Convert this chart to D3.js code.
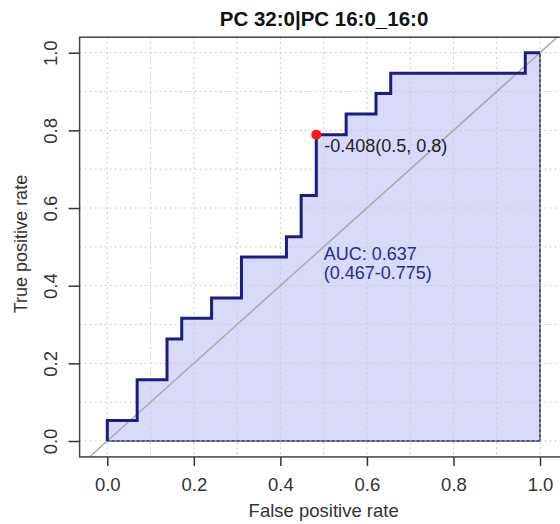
<!DOCTYPE html>
<html>
<head>
<meta charset="utf-8">
<script src="https://cdn.jsdelivr.net/npm/d3@7"></script>
<style>
  html, body { margin: 0; padding: 0; background: #fff; }
  svg { display: block; font-family: "Liberation Sans", Arial, Helvetica, sans-serif; }
</style>
</head>
<body>
<svg id="chart" width="560" height="524"></svg>
<script>
// ---- data ----
const title = "PC 32:0|PC 16:0_16:0";
const fpr = [0, 0, 0.069, 0.138, 0.172, 0.241, 0.310, 0.414, 0.448, 0.483, 0.552, 0.621, 0.655, 0.966, 1];
const tpr = [0, 0.053, 0.158, 0.263, 0.316, 0.368, 0.474, 0.526, 0.632, 0.789, 0.842, 0.895, 0.947, 1, 1];
const bestPoint = { fpr: 0.483, tpr: 0.789, label: "-0.408(0.5, 0.8)" };
const aucLines = ["AUC: 0.637", "(0.467-0.775)"];
const tickValues = [0, 0.2, 0.4, 0.6, 0.8, 1.0];
const gridValues = [0, 0.1, 0.2, 0.3, 0.4, 0.5, 0.6, 0.7, 0.8, 0.9, 1.0];
const xLabel = "False positive rate";
const yLabel = "True positive rate";

// ---- layout ----
const svg = d3.select("#chart");
const x = d3.scaleLinear().domain([0, 1]).range([107.3, 540]);
const y = d3.scaleLinear().domain([0, 1]).range([441, 52.7]);
const frameX = [-0.064, 1.07];
const frameY = [-0.041, 1.04];
const fx0 = x(frameX[0]), fx1 = x(frameX[1]);
const fy0 = y(frameY[0]), fy1 = y(frameY[1]);

const pts = fpr.map((f, i) => [f, tpr[i]]);

// fill
const area = d3.area().curve(d3.curveStepAfter)
  .x(d => x(d[0])).y0(y(0)).y1(d => y(d[1]));
svg.append("path").datum(pts)
  .attr("d", area)
  .attr("fill", "#d9d9fa")
  .attr("stroke", "#23235e")
  .attr("stroke-width", 1.5);

// grid
const grid = svg.append("g").attr("stroke", "#c9c9cf").attr("stroke-width", 1)
  .attr("stroke-dasharray", "2,3");
grid.selectAll("line.v").data(gridValues).join("line").attr("class", "v")
  .attr("x1", d => x(d)).attr("x2", d => x(d)).attr("y1", fy1).attr("y2", fy0);
grid.selectAll("line.h").data(gridValues).join("line").attr("class", "h")
  .attr("y1", d => y(d)).attr("y2", d => y(d)).attr("x1", fx0).attr("x2", fx1);

// diagonal
svg.append("line")
  .attr("x1", x(-0.04)).attr("y1", y(-0.04))
  .attr("x2", x(1.04)).attr("y2", y(1.04))
  .attr("stroke", "#ababab").attr("stroke-width", 1.5);

// ROC curve
const line = d3.line().curve(d3.curveStepAfter).x(d => x(d[0])).y(d => y(d[1]));
svg.append("path").datum(pts)
  .attr("d", line)
  .attr("fill", "none")
  .attr("stroke", "#1c1c82")
  .attr("stroke-width", 3)
  .attr("stroke-linejoin", "miter");

// frame
svg.append("rect")
  .attr("x", fx0).attr("y", fy1)
  .attr("width", fx1 - fx0).attr("height", fy0 - fy1)
  .attr("fill", "none").attr("stroke", "#444").attr("stroke-width", 1.5);

// axes
const xAxis = svg.append("g").attr("transform", `translate(0,${fy0})`)
  .call(d3.axisBottom(x).tickValues(tickValues).tickSize(9).tickPadding(12)
    .tickFormat(d3.format(".1f")));
xAxis.select(".domain").remove();
xAxis.selectAll(".tick line").attr("stroke", "#333").attr("stroke-width", 1.5);
xAxis.selectAll(".tick text").attr("font-size", 18.5).attr("fill", "#333")
  .attr("font-family", "Liberation Sans, Arial, sans-serif");

const yAxis = svg.append("g").attr("transform", `translate(${fx0},0)`)
  .call(d3.axisLeft(y).tickValues(tickValues).tickSize(11).tickFormat(d3.format(".1f")));
yAxis.select(".domain").remove();
yAxis.selectAll(".tick line").attr("stroke", "#333").attr("stroke-width", 1.5);
yAxis.selectAll(".tick text")
  .attr("x", null).attr("dy", null)
  .attr("text-anchor", "middle")
  .attr("transform", "translate(-23,0) rotate(-90)")
  .attr("font-size", 18.5).attr("fill", "#333")
  .attr("font-family", "Liberation Sans, Arial, sans-serif");

// best point
svg.append("circle")
  .attr("cx", x(bestPoint.fpr)).attr("cy", y(bestPoint.tpr))
  .attr("r", 5).attr("fill", "#ff1a1a");
svg.append("text")
  .attr("x", x(bestPoint.fpr) + 8).attr("y", y(bestPoint.tpr) + 17)
  .attr("font-size", 18).attr("fill", "#222")
  .text(bestPoint.label);

// AUC text
svg.append("g").selectAll("text").data(aucLines).join("text")
  .attr("x", x(0.5)).attr("y", (d, i) => y(0.5) + 13 + i * 19)
  .attr("font-size", 18).attr("fill", "#2a2a8a")
  .text(d => d);

// titles
svg.append("text").attr("x", 324).attr("y", 26)
  .attr("text-anchor", "middle").attr("font-size", 20.5).attr("font-weight", "bold")
  .attr("fill", "#111").text(title);
svg.append("text").attr("x", x(0.5)).attr("y", 517)
  .attr("text-anchor", "middle").attr("font-size", 18.5).attr("fill", "#333").text(xLabel);
svg.append("text")
  .attr("transform", `translate(27,${(fy0 + fy1) / 2 - 3}) rotate(-90)`)
  .attr("text-anchor", "middle").attr("font-size", 18).attr("fill", "#333").text(yLabel);
</script>
</body>
</html>
